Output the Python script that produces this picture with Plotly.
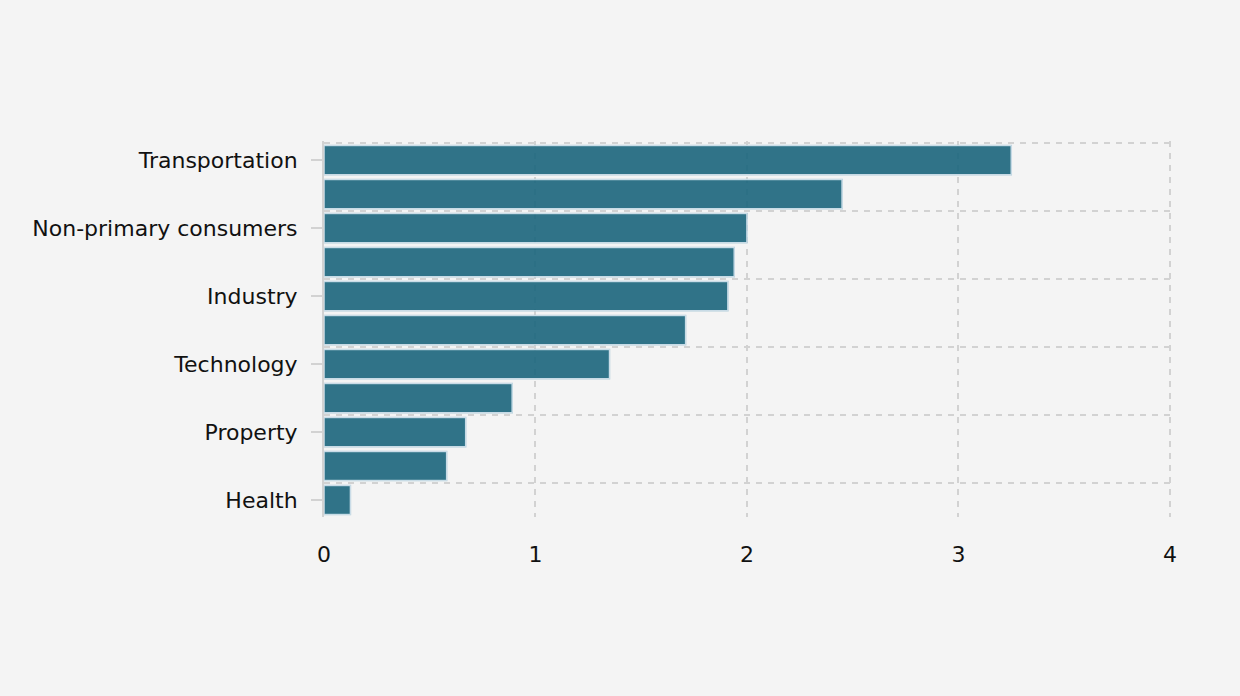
import plotly.graph_objects as go

categories = [
    "Transportation", "Energy", "Non-primary consumers", "Materials",
    "Industry", "Utilities", "Technology", "Finance",
    "Property", "Communication", "Health",
]
values = [3.25, 2.45, 2.0, 1.94, 1.91, 1.71, 1.35, 0.89, 0.67, 0.58, 0.125]
x_ticks = [0, 1, 2, 3, 4]

BG = "#f4f4f4"
GRID = "#d2d2d2"
FONT = dict(family="DejaVu Sans, Verdana, sans-serif", size=22, color="#111111")

fig = go.Figure()

# visible bars on the main axis (its grid marks category boundaries)
fig.add_trace(go.Bar(
    x=values, y=categories, orientation="h",
    marker=dict(color="rgb(27,102,125)", opacity=0.9,
                line=dict(color="rgb(172,202,216)", width=1.5)),
    yaxis="y", showlegend=False,
))
# invisible copy carrying the labelled y axis
fig.add_trace(go.Bar(
    x=values, y=categories, orientation="h",
    marker=dict(color="rgba(0,0,0,0)"), hoverinfo="skip",
    yaxis="y2", showlegend=False,
))

fig.update_layout(
    width=1240, height=696,
    paper_bgcolor=BG, plot_bgcolor=BG,
    margin=dict(l=324, r=68, t=141, b=179),
    font=FONT,
    bargap=0.14,
    barmode="overlay",
    xaxis=dict(
        range=[0, 4.01], tickvals=x_ticks, ticktext=[str(v) for v in x_ticks],
        showgrid=True, gridcolor=GRID, gridwidth=2, griddash="6px,6px",
        zeroline=False, showline=False, ticks="",
        ticklabelstandoff=22, tickfont=FONT,
    ),
    yaxis=dict(
        type="category", categoryorder="array", categoryarray=categories,
        range=[10.5, -0.56], tickmode="linear", tick0=0, dtick=2,
        tickson="boundaries", showgrid=True, gridcolor=GRID, gridwidth=2,
        griddash="6px,6px", showticklabels=False, ticks="",
        zeroline=False, showline=False,
    ),
    yaxis2=dict(
        type="category", categoryorder="array", categoryarray=categories,
        range=[10.5, -0.56], overlaying="y", side="left",
        tickmode="linear", tick0=0, dtick=2,
        showgrid=False, zeroline=False,
        showline=True, linecolor=GRID, linewidth=2,
        ticks="outside", ticklen=11, tickwidth=2, tickcolor=GRID,
        tickfont=FONT, ticklabelstandoff=9,
    ),
)

fig.write_html(
    "out.html",
    config={"displayModeBar": False},
    post_script="document.body.style.margin='0';"
                "document.body.style.background='#f4f4f4';",
)
